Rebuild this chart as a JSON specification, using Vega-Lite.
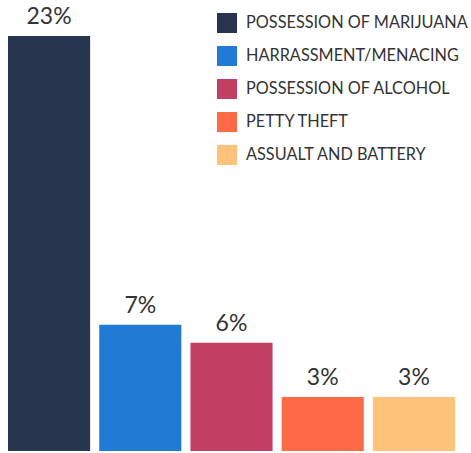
{
  "$schema": "https://vega.github.io/schema/vega-lite/v6.json",
  "autosize": "none",
  "width": 447,
  "height": 451,
  "padding": {"left": 8, "top": 0, "right": 16, "bottom": 2},
  "background": "white",
  "config": {"view": {"stroke": null}, "font": "Lato"},
  "data": {"values": [
    {"category": "POSSESSION OF MARIJUANA", "pct": 23, "label": "23%"},
    {"category": "HARRASSMENT/MENACING", "pct": 7, "label": "7%"},
    {"category": "POSSESSION OF ALCOHOL", "pct": 6, "label": "6%"},
    {"category": "PETTY THEFT", "pct": 3, "label": "3%"},
    {"category": "ASSUALT AND BATTERY", "pct": 3, "label": "3%"}
  ]},
  "encoding": {
    "x": {"field": "category", "type": "nominal", "sort": null, "axis": null,
          "scale": {"paddingInner": 0.1, "paddingOuter": 0}}
  },
  "layer": [
    {
      "mark": {"type": "bar"},
      "encoding": {
        "y": {"field": "pct", "type": "quantitative", "axis": null, "scale": {"domain": [0, 25], "nice": false}},
        "color": {"field": "category", "type": "nominal", "sort": null,
          "scale": {"domain": ["POSSESSION OF MARIJUANA", "HARRASSMENT/MENACING", "POSSESSION OF ALCOHOL", "PETTY THEFT", "ASSUALT AND BATTERY"],
                    "range": ["#27354f", "#1f7bd3", "#c23e63", "#fd6a45", "#fec27b"]},
          "legend": {"title": null, "orient": "none", "legendX": 209, "legendY": 13,
                     "symbolType": "square", "symbolSize": 400, "symbolStrokeWidth": 0,
                     "rowPadding": 13, "labelOffset": 9, "labelFontSize": 16.3, "labelColor": "#333333",
                     "labelLimit": 300, "labelFont": "Lato"}}
      }
    },
    {
      "mark": {"type": "text", "baseline": "bottom", "dy": -7, "fontSize": 23, "color": "#333333", "font": "Lato"},
      "encoding": {
        "y": {"field": "pct", "type": "quantitative"},
        "text": {"field": "label", "type": "nominal"}
      }
    }
  ]
}
